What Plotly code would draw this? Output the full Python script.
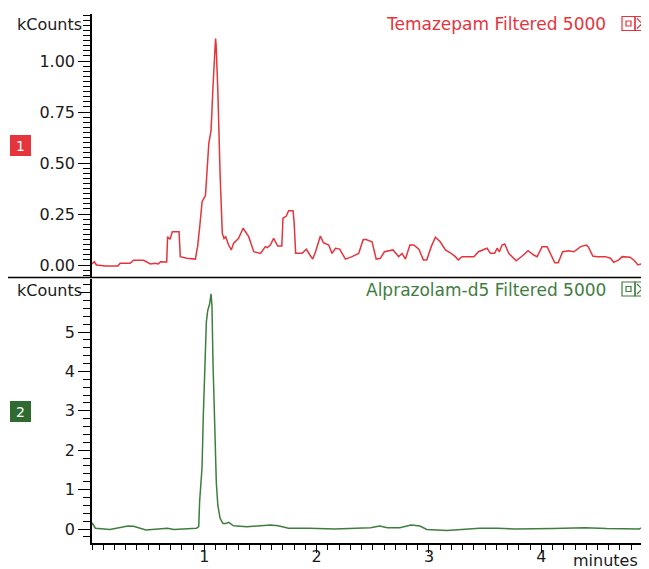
import plotly.graph_objects as go

# ---------------- data ----------------
tema_time = [0.00, 0.02, 0.04, 0.12, 0.23, 0.25, 0.34, 0.37, 0.46, 0.52, 0.56, 0.59, 0.61, 0.665,
             0.673, 0.695, 0.715, 0.775, 0.786, 0.843, 0.92, 0.94, 0.962, 0.98, 0.99, 1.01, 1.04,
             1.06, 1.077, 1.09, 1.10, 1.105, 1.11, 1.12, 1.14, 1.16, 1.175, 1.19, 1.216, 1.24,
             1.26, 1.305, 1.345, 1.395, 1.44, 1.50, 1.543, 1.56, 1.588, 1.617, 1.653, 1.69, 1.70,
             1.73, 1.75, 1.79, 1.80, 1.813, 1.87, 1.908, 1.94, 1.965, 1.99, 2.033, 2.06, 2.107,
             2.137, 2.167, 2.205, 2.256, 2.315, 2.353, 2.374, 2.413, 2.434, 2.493, 2.53, 2.567,
             2.603, 2.68, 2.73, 2.76, 2.79, 2.83, 2.864, 2.91, 2.95, 2.98, 3.02, 3.057, 3.10,
             3.146, 3.19, 3.235, 3.26, 3.295, 3.40, 3.44, 3.517, 3.547, 3.585, 3.606, 3.627,
             3.65, 3.674, 3.71, 3.74, 3.776, 3.83, 3.882, 3.932, 3.963, 4.007, 4.052, 4.08,
             4.12, 4.15, 4.19, 4.244, 4.29, 4.35, 4.40, 4.42, 4.458, 4.497, 4.57, 4.615, 4.645,
             4.69, 4.72, 4.79, 4.83, 4.86, 4.89, 4.92, 4.95]
tema_kcounts = [0.005, 0.016, 0.0, -0.005, -0.005, 0.008, 0.008, 0.023, 0.023, 0.005, 0.008, 0.005,
                0.016, 0.015, 0.139, 0.126, 0.163, 0.163, 0.041, 0.033, 0.029, 0.09, 0.204, 0.31,
                0.32, 0.34, 0.596, 0.66, 0.874, 1.005, 1.11, 1.08, 1.005, 0.858, 0.45, 0.155, 0.13,
                0.139, 0.098, 0.074, 0.106, 0.131, 0.18, 0.139, 0.065, 0.057, 0.09, 0.085, 0.098,
                0.131, 0.093, 0.093, 0.229, 0.24, 0.266, 0.266, 0.204, 0.057, 0.057, 0.077, 0.049,
                0.029, 0.065, 0.142, 0.109, 0.098, 0.057, 0.082, 0.078, 0.029, 0.041, 0.049, 0.057,
                0.123, 0.126, 0.114, 0.029, 0.033, 0.065, 0.074, 0.041, 0.057, 0.029, 0.098, 0.098,
                0.077, 0.025, 0.025, 0.09, 0.136, 0.114, 0.074, 0.06, 0.041, 0.025, 0.041, 0.041,
                0.065, 0.082, 0.057, 0.057, 0.082, 0.065, 0.098, 0.103, 0.057, 0.041, 0.021, 0.044,
                0.07, 0.049, 0.041, 0.09, 0.09, 0.057, 0.011, 0.011, 0.065, 0.07, 0.065, 0.09,
                0.098, 0.087, 0.044, 0.041, 0.041, 0.033, 0.013, 0.025, 0.041, 0.038, 0.021, 0.0,
                0.005, 0.049, 0.021]

alp_time = [0.00, 0.03, 0.16, 0.25, 0.32, 0.37, 0.43, 0.48, 0.67, 0.73, 0.93, 0.95, 0.958, 0.98,
            0.99, 1.003, 1.018, 1.03, 1.047, 1.06, 1.068, 1.077, 1.092, 1.107, 1.12, 1.14, 1.166,
            1.19, 1.216, 1.26, 1.38, 1.48, 1.59, 1.656, 1.75, 1.93, 2.16, 2.35, 2.48, 2.56, 2.63,
            2.74, 2.84, 2.92, 2.98, 3.16, 3.29, 3.45, 3.61, 3.77, 4.10, 4.39, 4.58, 4.87, 4.94]
alp_kcounts = [0.16, 0.02, -0.01, 0.04, 0.076, 0.07, 0.02, -0.025, 0.02, -0.01, 0.02, 0.06, 0.69,
               1.58, 2.8, 4.28, 5.25, 5.54, 5.71, 5.97, 5.67, 4.24, 2.63, 1.16, 0.61, 0.27, 0.14,
               0.14, 0.17, 0.08, 0.06, 0.08, 0.1, 0.08, 0.02, 0.02, 0.0, 0.02, 0.03, 0.076, 0.03,
               0.03, 0.1, 0.076, -0.01, -0.04, -0.01, 0.02, 0.02, 0.0, 0.01, 0.03, 0.01, 0.0, 0.1]

top_ticks = [0.0, 0.25, 0.5, 0.75, 1.0]
top_ticktext = ["0.00", "0.25", "0.50", "0.75", "1.00"]
bot_ticks = [0, 1, 2, 3, 4, 5, 6]
bot_ticktext = ["0", "1", "2", "3", "4", "5", ""]
x_ticks = [1, 2, 3, 4]
x_ticktext = ["1", "2", "3", "4"]

title_top = "Temazepam Filtered 5000"
title_bot = "Alprazolam-d5 Filtered 5000"

# ---------------- style ----------------
RED = "#e5343c"
GREEN = "#3f7d3f"
GREEN_BOX = "#2f6b30"
FONT = "DejaVu Sans"
FS = 16

OFF = 8                      # page body margin
W, H = 649 - OFF, 569 - OFF  # figure size
L, R, T, B = 92 - OFF, 0, 14 - OFF, 569 - 543
PW, PH = W - L - R, H - T - B

def pxx(px):
    """screen x -> paper"""
    return (px - OFF - L) / PW

def pyy(py):
    """screen y -> paper"""
    return 1 - (py - OFF - T) / PH

XMAX = PW / 112.33

fig = go.Figure()
fig.add_trace(go.Scatter(x=tema_time, y=tema_kcounts, mode="lines",
                         line=dict(color=RED, width=1.5), xaxis="x", yaxis="y",
                         showlegend=False, hoverinfo="skip"))
fig.add_trace(go.Scatter(x=alp_time, y=alp_kcounts, mode="lines",
                         line=dict(color=GREEN, width=1.5), xaxis="x2", yaxis="y2",
                         showlegend=False, hoverinfo="skip"))

axis_font = dict(family=FONT, size=FS, color="#1a1a1a")
top_range = [(265 - 277.5) / 204, (265 - 14) / 204]
bot_range = [(529 - 543) / 39.4, (529 - 278.5) / 39.4]

common = dict(automargin=False, showgrid=False, zeroline=False)

fig.update_layout(
    width=W, height=H,
    margin=dict(l=L, r=R, t=T, b=B, pad=0, autoexpand=False),
    paper_bgcolor="white", plot_bgcolor="white",
    font=dict(family=FONT, size=FS, color="#1a1a1a"),
    xaxis=dict(domain=[0, 1], anchor="y", range=[0, XMAX], showticklabels=False,
               ticks="", showline=False, **common),
    xaxis2=dict(domain=[0, 1], anchor="y2", range=[0, XMAX], tickmode="array",
                tickvals=x_ticks, ticktext=x_ticktext, ticks="outside", ticklen=8,
                ticklabelstandoff=-10,
                tickwidth=1.2, tickcolor="black", showline=True, linecolor="black",
                linewidth=1.5, tickfont=axis_font, **common,
                minor=dict(tickmode="linear", tick0=0, dtick=0.1, ticks="outside",
                           ticklen=5, tickcolor="black", tickwidth=1.2, showgrid=False)),
    yaxis=dict(domain=[pyy(277.5), 1], anchor="x", range=top_range,
               tickmode="array", tickvals=top_ticks, ticktext=top_ticktext,
               ticks="outside", ticklen=12, tickwidth=1.2, tickcolor="black",
               showline=True, linecolor="black", linewidth=1.5, tickfont=axis_font, **common,
               minor=dict(tickmode="linear", tick0=0, dtick=0.025, ticks="outside",
                          ticklen=7, tickcolor="black", tickwidth=1.2, showgrid=False)),
    yaxis3=dict(overlaying="y", side="right", anchor="x", range=top_range,
                tickmode="array", tickvals=top_ticks, showticklabels=False,
                ticks="inside", ticklen=9, tickwidth=1.2, tickcolor="black",
                showline=False, **common,
                minor=dict(tickmode="linear", tick0=0, dtick=0.025, ticks="inside",
                           ticklen=4, tickcolor="black", tickwidth=1.2, showgrid=False)),
    yaxis2=dict(domain=[0, pyy(278.5)], anchor="x2", range=bot_range,
                tickmode="array", tickvals=bot_ticks, ticktext=bot_ticktext,
                ticks="outside", ticklen=12, tickwidth=1.2, tickcolor="black",
                showline=True, linecolor="black", linewidth=1.5, tickfont=axis_font, **common,
                minor=dict(tickmode="linear", tick0=0, dtick=0.2, ticks="outside",
                           ticklen=7, tickcolor="black", tickwidth=1.2, showgrid=False)),
    yaxis4=dict(overlaying="y2", side="right", anchor="x2", range=bot_range,
                tickmode="array", tickvals=bot_ticks, showticklabels=False,
                ticks="inside", ticklen=9, tickwidth=1.2, tickcolor="black",
                showline=False, **common,
                minor=dict(tickmode="linear", tick0=0, dtick=0.2, ticks="inside",
                           ticklen=4, tickcolor="black", tickwidth=1.2, showgrid=False)),
)

ann = []
ann.append(dict(text="kCounts", x=pxx(84), y=pyy(24.5), xref="paper", yref="paper",
                xanchor="right", yanchor="middle", showarrow=False,
                font=dict(family=FONT, size=FS, color="#1a1a1a")))
ann.append(dict(text="kCounts", x=pxx(84), y=pyy(290), xref="paper", yref="paper",
                xanchor="right", yanchor="middle", showarrow=False,
                font=dict(family=FONT, size=FS, color="#1a1a1a")))
ann.append(dict(text=title_top, x=pxx(608), y=pyy(24), xref="paper", yref="paper",
                xanchor="right", yanchor="middle", showarrow=False,
                font=dict(family=FONT, size=17, color=RED)))
ann.append(dict(text=title_bot, x=pxx(608), y=pyy(289.5), xref="paper", yref="paper",
                xanchor="right", yanchor="middle", showarrow=False,
                font=dict(family=FONT, size=17, color=GREEN)))
ann.append(dict(text="1", x=pxx(20.5), y=pyy(145.5), xref="paper", yref="paper",
                xanchor="center", yanchor="middle", showarrow=False,
                width=17, height=17, bgcolor=RED, bordercolor=RED, borderwidth=2, borderpad=0,
                font=dict(family=FONT, size=14, color="white")))
ann.append(dict(text="2", x=pxx(20.7), y=pyy(411), xref="paper", yref="paper",
                xanchor="center", yanchor="middle", showarrow=False,
                width=17, height=17, bgcolor=GREEN_BOX, bordercolor=GREEN_BOX, borderwidth=2,
                borderpad=0, font=dict(family=FONT, size=14, color="white")))
ann.append(dict(text="minutes", x=pxx(640), y=pyy(560), xref="paper", yref="paper",
                xanchor="right", yanchor="middle", showarrow=False,
                font=dict(family=FONT, size=16, color="#1a1a1a")))
fig.update_layout(annotations=ann)

shapes = []
# panel separator
shapes.append(dict(type="line", xref="paper", yref="paper", x0=pxx(8), x1=1,
                   y0=pyy(277.5), y1=pyy(277.5), line=dict(color="black", width=1.5)))

def icons(dy, color):
    out = []
    y0, y1 = pyy(16.5 + dy), pyy(30.5 + dy)
    out.append(dict(type="rect", xref="paper", yref="paper", x0=pxx(622), x1=pxx(635),
                    y0=y0, y1=y1, line=dict(color=color, width=1.2)))
    out.append(dict(type="rect", xref="paper", yref="paper", x0=pxx(626), x1=pxx(631),
                    y0=pyy(21 + dy), y1=pyy(26 + dy), line=dict(color=color, width=1.2)))
    out.append(dict(type="rect", xref="paper", yref="paper", x0=pxx(635), x1=pxx(648),
                    y0=y0, y1=y1, line=dict(color=color, width=1.2)))
    out.append(dict(type="line", xref="paper", yref="paper", x0=pxx(637), x1=pxx(647),
                    y0=pyy(18.5 + dy), y1=pyy(28.5 + dy), line=dict(color=color, width=1.2)))
    out.append(dict(type="line", xref="paper", yref="paper", x0=pxx(637), x1=pxx(647),
                    y0=pyy(28.5 + dy), y1=pyy(18.5 + dy), line=dict(color=color, width=1.2)))
    return out

shapes += icons(0, RED)
shapes += icons(265.5, GREEN)
fig.update_layout(shapes=shapes)

fig.write_html("out.html")
